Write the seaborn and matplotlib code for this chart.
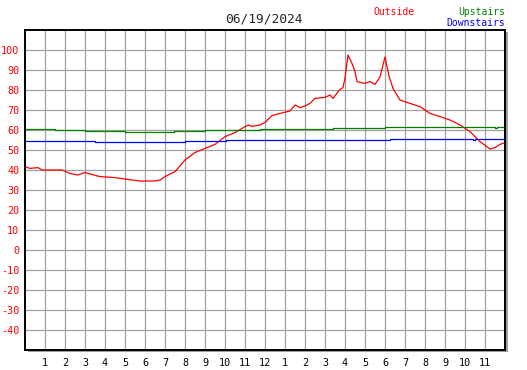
import matplotlib
matplotlib.use("Agg")
import matplotlib.pyplot as plt
import seaborn as sns
from matplotlib.patches import Rectangle

# Outside temperature (hour of day, deg F)
outside_hours = [0.0, 0.25, 0.65, 0.85, 1.85, 2.25, 2.65, 3.0, 3.15, 3.75, 4.5, 5.0,
                 5.75, 6.5, 6.75, 7.0, 7.5, 8.0, 8.5, 9.0, 9.5, 10.0, 10.5, 11.0,
                 11.2, 11.35, 11.75, 12.0, 12.35, 12.75, 13.25, 13.5, 13.75, 14.0,
                 14.25, 14.5, 15.0, 15.25, 15.4, 15.75, 15.9, 16.0, 16.15, 16.35,
                 16.5, 16.6, 17.0, 17.25, 17.5, 17.75, 18.0, 18.2, 18.4, 18.75,
                 19.25, 19.75, 20.25, 20.75, 21.25, 21.75, 22.25, 22.75, 23.25,
                 23.5, 23.75, 24.0]
outside_temp = [41.7, 40.8, 41.2, 40.0, 40.0, 38.3, 37.5, 38.8, 38.3, 36.7, 36.2, 35.5,
                34.5, 34.5, 35.0, 36.7, 39.2, 45.0, 48.7, 50.8, 52.8, 56.7, 58.7, 61.7,
                62.5, 61.8, 62.5, 63.8, 67.2, 68.3, 69.5, 72.5, 71.2, 72.0,
                73.3, 75.8, 76.3, 77.5, 75.8, 80.3, 81.2, 86.0, 97.5, 93.3,
                89.2, 84.2, 83.3, 84.2, 82.8, 86.5, 96.5, 87.0, 80.8, 75.0,
                73.3, 71.7, 68.3, 66.7, 65.0, 62.5, 59.2, 54.2, 50.5,
                51.2, 52.8, 53.7]

# Upstairs (step changes)
upstairs_hours = [0.0, 1.5, 3.0, 5.0, 7.45, 9.0, 11.75, 15.4, 18.0, 23.5, 23.6, 24.0]
upstairs_temp = [60.3, 60.0, 59.7, 58.8, 59.5, 60.0, 60.5, 60.8, 61.3, 60.8, 61.3, 61.3]

# Downstairs (step changes)
downstairs_hours = [0.0, 3.5, 3.6, 8.0, 10.05, 18.25, 22.4, 22.5, 24.0]
downstairs_temp = [54.3, 53.8, 53.8, 54.3, 55.0, 55.3, 55.0, 55.3, 55.3]

hour_ticks = list(range(1, 24))
hour_labels = [str(h if h <= 12 else h - 12) for h in hour_ticks]
temp_ticks = list(range(-40, 101, 10))

sns.set_style("white")
plt.rcParams['font.family'] = ['DejaVu Sans Mono']

W, H = 527, 370
fig = plt.figure(figsize=(W / 100, H / 100), dpi=100)
ax = fig.add_axes([25 / W, 20 / H, 480 / W, 320 / H])

# drop shadow behind the frame
fig.add_artist(Rectangle((28 / W, 18 / H), 480 / W, 320 / H,
                         transform=fig.transFigure, facecolor="#a0a0a0",
                         edgecolor="none", zorder=-1))

sns.lineplot(x=outside_hours, y=outside_temp, ax=ax, color="#ff0000", linewidth=0.9)
sns.lineplot(x=upstairs_hours, y=upstairs_temp, ax=ax, color="#008000", linewidth=0.9,
             drawstyle="steps-post")
sns.lineplot(x=downstairs_hours, y=downstairs_temp, ax=ax, color="#0000ff", linewidth=0.9,
             drawstyle="steps-post")

ax.set_xlim(0, 24)
ax.set_ylim(-50, 110)
ax.set_xticks(hour_ticks)
ax.set_xticklabels(hour_labels)
ax.set_yticks(temp_ticks)
ax.set_yticklabels([str(t) for t in temp_ticks], color="#ff0000")
ax.tick_params(axis="x", direction="in", length=3, width=1, labelsize=7.3, pad=6, colors="black")
ax.tick_params(axis="y", direction="in", length=4, width=1, labelsize=7.3, pad=4)
ax.tick_params(axis="y", labelcolor="#ff0000")
ax.grid(True, color="#a0a0a0", linewidth=0.9)
ax.set_axisbelow(True)
for s in ax.spines.values():
    s.set_color("black")
    s.set_linewidth(1.4)
ax.set_xlabel("")
ax.set_ylabel("")

fig.text(264 / W, 1 - 19 / H, "06/19/2024", ha="center", va="center", fontsize=9.3)
fig.text(373 / W, 1 - 12 / H, "Outside", ha="left", va="center", fontsize=7.0, color="#ff0000")
fig.text(505 / W, 1 - 12 / H, "Upstairs", ha="right", va="center", fontsize=7.0, color="#008000")
fig.text(505 / W, 1 - 23 / H, "Downstairs", ha="right", va="center", fontsize=7.0, color="#0000ff")

fig.savefig("out.png", dpi=100)
